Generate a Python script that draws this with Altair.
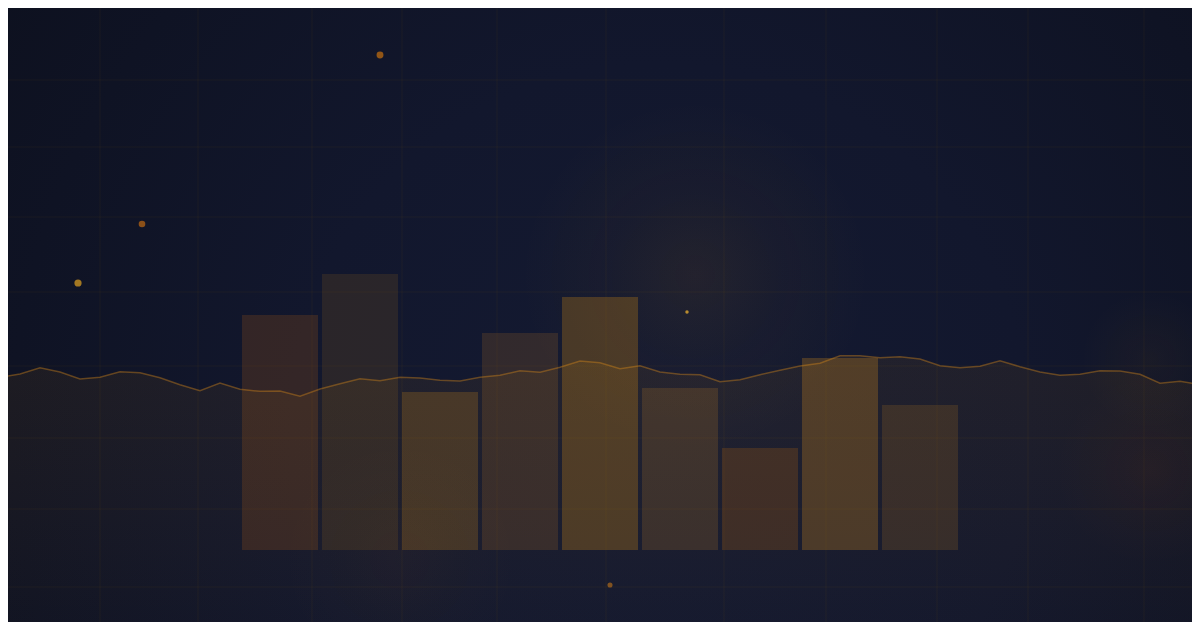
import pandas as pd
import numpy as np
import altair as alt

# the page keeps an 8px margin, so the plot shows x 8-1192 and y 8-622 of the
# 1200x630 frame the values were read in (y given as height above the bar baseline at 550)
W, H = 1184, 614
X_DOMAIN = [8, 1192]
Y_DOMAIN = [550 - 622, 550 - 8]

# bars: height above the baseline
bar_ids = ["1", "2", "3", "4", "5", "6", "7", "8", "9"]
bar_values = [235, 276, 158, 217, 253, 162, 102, 192, 145]
bar_colors = ["#e8780a", "#f59e0b", "#f5a015", "#f2931a", "#f59e0b",
              "#f6a322", "#f28400", "#ef9b19", "#f2991b"]
bar_opacity = [0.16, 0.105, 0.19, 0.14, 0.23, 0.15, 0.17, 0.24, 0.14]
# empty slots either side of the bars
bar_slots = ["l1", "l2", "l3"] + bar_ids + ["r1", "r2", "r3"]

# trend line, one point every 20px step across the frame
line_values = [172.7, 176, 182.3, 178, 171, 172.7, 178.3, 177.3, 172.3, 165.3,
               159.3, 167, 160.7, 158.7, 159, 153.7, 161, 166.3, 171.3, 169.3,
               172.7, 172, 169.7, 169, 172.7, 174.7, 179.3, 177.7, 182.7, 189,
               187.3, 181.3, 184.3, 178, 175.7, 175.3, 168.3, 170.3, 175.3, 179.7,
               184, 186.7, 194.3, 194.3, 192.3, 193.3, 191, 184.3, 182.3, 183.7,
               189.3, 183.3, 178, 174.7, 175.7, 179.3, 179, 175.7, 166.7, 168.7,
               165.3]

# scattered dots
dot_x = [380, 142, 78, 687, 610]
dot_y = [495, 326, 267, 238, -35]
dot_size = [48, 44, 52, 12, 26]
dot_colors = ["#c8700e", "#c06a12", "#d49a22", "#e0a830", "#b8701a"]
dot_opacity = [0.7, 0.7, 0.75, 0.8, 0.65]

# faint grid
grid_x = [100, 198, 312, 402, 497, 606, 724, 826, 937, 1028, 1144]
grid_y = [470, 403, 333, 258, 184, 112, 41, -37]

# warm glows: centre x, centre y, radius, rgb
glow_cx = [695, 1150, 1150, 400]
glow_cy = [275, 190, 80, -10]
glow_r = [175, 70, 95, 120]
glow_rgb = ["245,158,11", "245,158,11", "234,88,12", "245,140,11"]
glow_alpha = [0.07, 0.045, 0.05, 0.03]

xs = alt.Scale(domain=X_DOMAIN, nice=False, zero=False)
ys = alt.Scale(domain=Y_DOMAIN, nice=False, zero=False)


def radial(rgb, alpha):
    return alt.Gradient(
        gradient="radial",
        stops=[alt.GradientStop(color=f"rgba({rgb},{alpha})", offset=0),
               alt.GradientStop(color=f"rgba({rgb},{alpha * 0.4})", offset=0.5),
               alt.GradientStop(color=f"rgba({rgb},0)", offset=1)],
        x1=0.5, y1=0.5, x2=0.5, y2=0.5, r1=0, r2=0.5,
    )


# navy backdrop, lighter in the middle and darker toward the corners
frame = pd.DataFrame({"x": [X_DOMAIN[0]], "x2": [X_DOMAIN[1]],
                      "y": [Y_DOMAIN[0]], "y2": [Y_DOMAIN[1]]})
backdrop = alt.Chart(frame).mark_rect(
    fill=alt.Gradient(
        gradient="radial",
        stops=[alt.GradientStop(color="#141a32", offset=0),
               alt.GradientStop(color="#12172d", offset=0.4),
               alt.GradientStop(color="#0c0f1b", offset=1)],
        x1=0.55, y1=0.6, x2=0.55, y2=0.6, r1=0, r2=0.78,
    )
).encode(
    x=alt.X("x:Q", scale=xs, axis=None), x2="x2",
    y=alt.Y("y:Q", scale=ys, axis=None), y2="y2",
)

glows = []
for cx, cy, r, rgb, a in zip(glow_cx, glow_cy, glow_r, glow_rgb, glow_alpha):
    g = pd.DataFrame({"x": [cx - r], "x2": [cx + r], "y": [cy - r], "y2": [cy + r]})
    glows.append(alt.Chart(g).mark_rect(fill=radial(rgb, a), clip=True).encode(
        x=alt.X("x:Q", scale=xs, axis=None), x2="x2",
        y=alt.Y("y:Q", scale=ys, axis=None), y2="y2",
    ))

grid_color = "rgba(245,158,11,0.055)"
vgrid = alt.Chart(pd.DataFrame({"x": grid_x})).mark_rule(
    color=grid_color, strokeWidth=1
).encode(x=alt.X("x:Q", scale=xs, axis=None))
hgrid = alt.Chart(pd.DataFrame({"y": grid_y})).mark_rule(
    color=grid_color, strokeWidth=1
).encode(y=alt.Y("y:Q", scale=ys, axis=None))

line_df = pd.DataFrame({"step": np.arange(len(line_values)), "v": line_values,
                        "base": Y_DOMAIN[0]})
# steps are 20px apart, so the visible part runs from step 0.4 to 59.6
step_scale = alt.Scale(domain=[X_DOMAIN[0] / 20, X_DOMAIN[1] / 20], nice=False, zero=False)

area = alt.Chart(line_df).mark_area(
    clip=True,
    fill=alt.Gradient(
        gradient="linear",
        stops=[alt.GradientStop(color="rgba(245,158,11,0.065)", offset=0),
               alt.GradientStop(color="rgba(245,158,11,0.015)", offset=1)],
        x1=0, y1=0, x2=0, y2=1,
    )
).encode(
    x=alt.X("step:Q", scale=step_scale, axis=None),
    y=alt.Y("v:Q", scale=ys, axis=None), y2="base",
)

line = alt.Chart(line_df).mark_line(
    color="#d98a18", opacity=0.4, strokeWidth=1.5, clip=True
).encode(
    x=alt.X("step:Q", scale=step_scale, axis=None),
    y=alt.Y("v:Q", scale=ys, axis=None),
)

bars_df = pd.DataFrame({"id": bar_ids, "v": bar_values,
                        "c": bar_colors, "o": bar_opacity})
bars = alt.Chart(bars_df).mark_bar().encode(
    x=alt.X("id:O", axis=None,
            scale=alt.Scale(domain=bar_slots, range=[-X_DOMAIN[0], W + X_DOMAIN[0]],
                            paddingInner=0.05, paddingOuter=0.025)),
    y=alt.Y("v:Q", scale=ys, axis=None),
    color=alt.Color("c:N", scale=None),
    opacity=alt.Opacity("o:Q", scale=None),
)

dots_df = pd.DataFrame({"x": dot_x, "y": dot_y, "s": dot_size,
                        "c": dot_colors, "o": dot_opacity})
dots = alt.Chart(dots_df).mark_circle().encode(
    x=alt.X("x:Q", scale=xs, axis=None),
    y=alt.Y("y:Q", scale=ys, axis=None),
    size=alt.Size("s:Q", scale=None),
    color=alt.Color("c:N", scale=None),
    opacity=alt.Opacity("o:Q", scale=None),
)

chart = alt.layer(
    backdrop, *glows, area, bars, vgrid, hgrid, line, dots
).resolve_scale(
    x="independent"
).properties(
    width=W, height=H, background="#0e1220", padding=0,
    autosize=alt.AutoSizeParams(type="none"),
).configure_view(stroke=None)

chart.save("out.html", embed_options={"renderer": "svg", "actions": False})
